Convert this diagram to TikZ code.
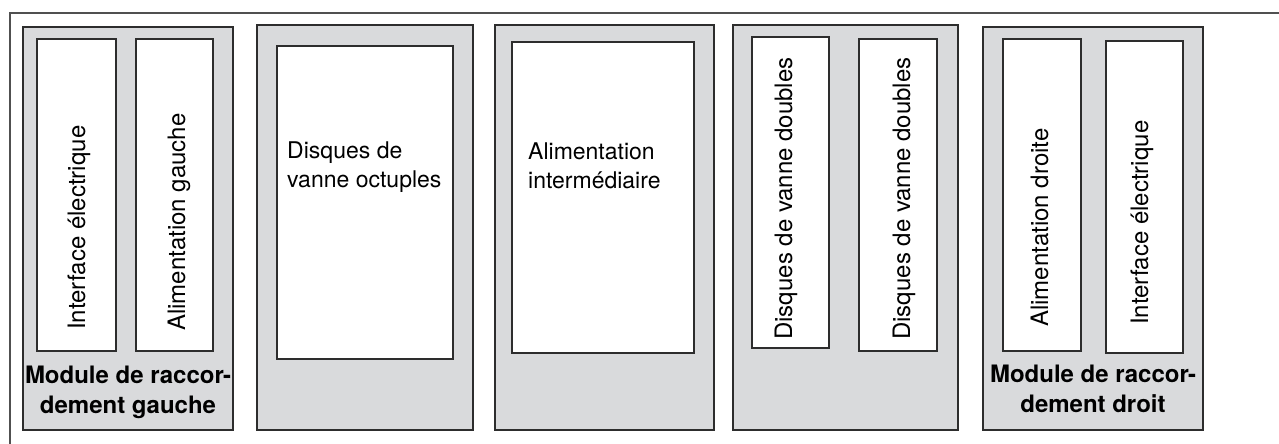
\documentclass[tikz,border=0pt]{standalone}
\usepackage{fontspec}
\setmainfont{TeX Gyre Heros}
\usepackage{tikz}
\definecolor{panelgray}{RGB}{217,218,220}
\definecolor{edgegray}{RGB}{45,45,45}
\definecolor{framegray}{RGB}{80,80,80}
\tikzset{
  frame/.style={draw=framegray, line width=1.4pt},
  module/.style={draw=edgegray, fill=panelgray, line width=1.1pt},
  slot/.style={draw=edgegray, fill=white, line width=1.1pt},
  vlabel/.style={rotate=90, anchor=base west, inner sep=0pt, font=\fontsize{24}{28}\selectfont},
  hlabel/.style={anchor=base west, align=left, inner sep=0pt, font=\fontsize{23}{29}\selectfont},
  mlabel/.style={anchor=base, align=center, inner sep=0pt, font=\bfseries\fontsize{24}{30}\selectfont}
}

\begin{document}
\begin{tikzpicture}[x=1pt, y=-1pt]
  \useasboundingbox (0,0) rectangle (1279,444);
  \draw[frame] (10,444) -- (10,13) -- (1279,13);
  % modules
  \draw[module] (23,27) rectangle (233,430);
  \draw[module] (257,25) rectangle (473,430);
  \draw[module] (495,25) rectangle (714,430);
  \draw[module] (733,25) rectangle (958,430);
  \draw[module] (983,27) rectangle (1203,430);
  % slots
  \draw[slot] (37,39) rectangle (116,351);
  \draw[slot] (136,39) rectangle (213,351);
  \draw[slot] (277,46) rectangle (453,359);
  \draw[slot] (512,42) rectangle (694,353);
  \draw[slot] (752,37) rectangle (829,348);
  \draw[slot] (859,39) rectangle (937,351);
  \draw[slot] (1003,39) rectangle (1081,351);
  \draw[slot] (1106,41) rectangle (1183,353);
  % labels (base of a two-line node = its last line)
  \node[vlabel] (ifleft) at (85,330) {Interface électrique};
  \node[vlabel] (alimleft) at (185,331) {Alimentation gauche};
  \node[hlabel] (octuple) at (287,187) {Disques de\\vanne octuples};
  \node[hlabel] (intermed) at (528,188) {Alimentation\\intermédiaire};
  \node[vlabel] (doubleA) at (792,340) {Disques de vanne doubles};
  \node[vlabel] (doubleB) at (910,340) {Disques de vanne doubles};
  \node[vlabel] (alimright) at (1048,327) {Alimentation droite};
  \node[vlabel] (ifright) at (1148,325) {Interface électrique};
  \node[mlabel] (modleft) at (128,413) {Module de raccor-\\dement gauche};
  \node[mlabel] (modright) at (1093,412) {Module de raccor-\\dement droit};
\end{tikzpicture}
\end{document}
